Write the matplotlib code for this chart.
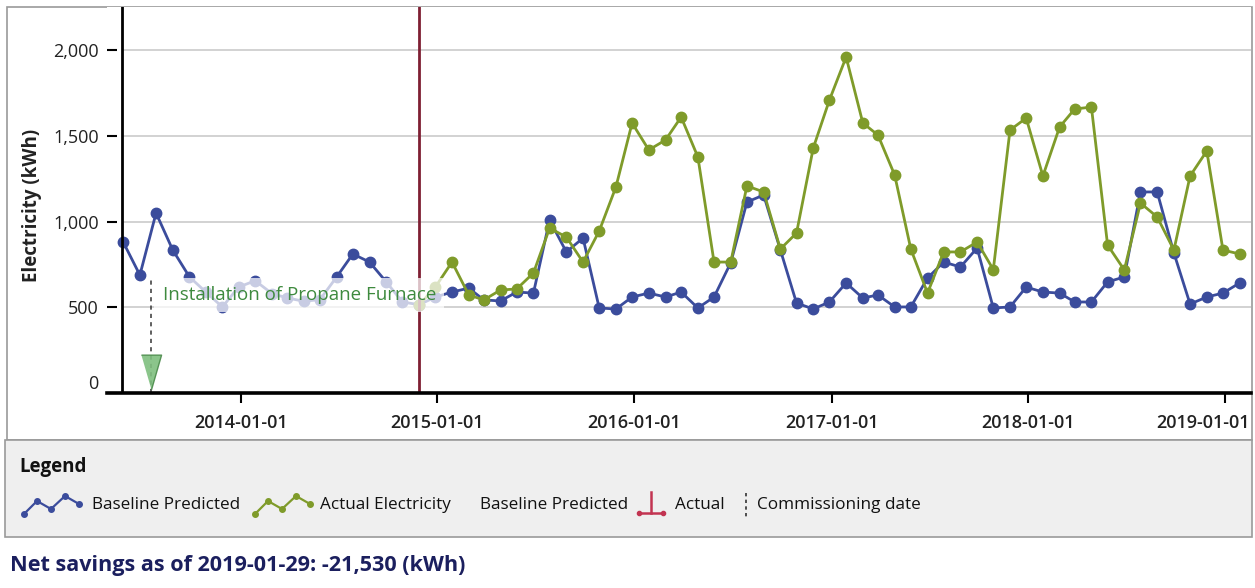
import numpy as np
import pandas as pd
import matplotlib
matplotlib.use("Agg")
import matplotlib.pyplot as plt
import matplotlib.dates as mdates
from matplotlib.lines import Line2D
from matplotlib.patches import Rectangle
from matplotlib.ticker import FixedLocator, FuncFormatter
from matplotlib.transforms import ScaledTranslation

plt.rcParams['font.family'] = ['Open Sans', 'DejaVu Sans']

# ---------------- data ----------------
months = pd.date_range('2013-05-01', '2019-01-01', freq='MS') + pd.Timedelta(days=27)

baseline_predicted = [
    881, 688, 1050, 834, 677, 590, 502, 618,                      # 2013 May-Dec
    655, 580, 555, 535, 545, 677, 811, 764, 648, 531, 515, 560,   # 2014
    589, 612, 543, 537, 589, 583, 1009, 823, 904, 496, 490, 560,  # 2015
    583, 560, 589, 496, 560, 760, 1114, 1155, 835, 525, 490, 531, # 2016
    642, 554, 572, 502, 502, 671, 764, 735, 846, 496, 502, 618,   # 2017
    589, 583, 531, 531, 648, 677, 1173, 1173, 817, 519, 560, 583, # 2018
    642,                                                          # 2019 Jan
]

actual_start = '2014-11-01'
actual_electricity = [
    513, 618,                                                          # 2014 Nov-Dec
    764, 572, 543, 601, 607, 700, 962, 910, 764, 945, 1202, 1575,      # 2015
    1418, 1476, 1610, 1377, 764, 764, 1208, 1173, 840, 933, 1429, 1709,# 2016
    1960, 1575, 1505, 1272, 840, 583, 823, 823, 881, 720, 1534, 1604,  # 2017
    1266, 1552, 1657, 1668, 863, 718, 1108, 1027, 834, 1266, 1412, 834,# 2018
    811,                                                               # 2019 Jan
]
actual_months = months[months >= pd.Timestamp(actual_start)]

y_ticks = [0, 500, 1000, 1500, 2000]
x_ticks = pd.to_datetime(['2014-01-01', '2015-01-01', '2016-01-01',
                          '2017-01-01', '2018-01-01', '2019-01-01'])
baseline_start = pd.Timestamp('2013-05-26')
reporting_start = pd.Timestamp('2014-11-27')
commissioning_date = pd.Timestamp('2013-07-18')
commissioning_label = 'Installation of Propane Furnace'
net_savings_text = 'Net savings as of 2019-01-29: -21,530 (kWh)'

# ---------------- figure ----------------
W, H = 1255, 588
fig = plt.figure(figsize=(W / 100, H / 100), dpi=100)

def fx(x):
    return x / W

def fy(y):
    return 1 - y / H

ax_l, ax_r, ax_t, ax_b = 107, 1251, 7, 393
ax = fig.add_axes([fx(ax_l), fy(ax_b), fx(ax_r - ax_l), (ax_b - ax_t) / H])

BLUE = '#3b4c9c'
GREEN = '#7f9b2a'
x_end = pd.Timestamp('2019-02-18')

ax.set_xlim(pd.Timestamp('2013-04-28'), x_end)
ax.set_ylim(0, 2252)

# gridlines starting at the y-axis line
ax.hlines(y_ticks[1:], baseline_start, x_end, colors='#cfcfcf', lw=1.3, zorder=1)

ax.plot(months, baseline_predicted, color=BLUE, lw=2.0, marker='o', ms=7.5,
        mfc=BLUE, mec=BLUE, zorder=3)
ax.plot(actual_months, actual_electricity, color=GREEN, lw=2.0, marker='o', ms=7.5,
        mfc=GREEN, mec=GREEN, zorder=3)

ax.axvline(baseline_start, color='black', lw=2.0, zorder=4)
ax.axvline(reporting_start, color='#7e1f33', lw=2.0, zorder=4)

# commissioning marker
ax.vlines(commissioning_date, 0, 660, colors='#444444', lw=1.2,
          linestyles=(0, (2.5, 2.5)), zorder=4)
ax.plot([commissioning_date], [122], linestyle='none',
        marker=[(-0.58, 1), (0.58, 1), (0, -1)], ms=25,
        mfc='#7fbf7f', mec='#4a8a4a', mew=1.0, alpha=0.9, zorder=4)
ax.text(pd.Timestamp('2013-08-09'), 572, commissioning_label, ha='left', va='center',
        fontsize=13.5, color='#3e8a3e', zorder=6,
        bbox=dict(facecolor='white', alpha=0.72, edgecolor='none', pad=6))

# axes styling
for s in ['top', 'right', 'left']:
    ax.spines[s].set_visible(False)
ax.spines['bottom'].set_linewidth(2.6)
ax.spines['bottom'].set_zorder(5)

ax.yaxis.set_major_locator(FixedLocator(y_ticks))
ax.yaxis.set_major_formatter(FuncFormatter(lambda v, p: f'{int(v):,}'))
ax.tick_params(axis='y', direction='in', length=7, width=1.5, pad=6,
               labelsize=13, colors='black', labelcolor='#222222')

ax.xaxis.set_major_locator(FixedLocator(mdates.date2num(x_ticks)))
ax.xaxis.set_major_formatter(mdates.DateFormatter('%Y-%m-%d'))
ax.tick_params(axis='x', direction='out', length=7, width=1.5, pad=8,
               labelsize=13, labelcolor='#222222')

ylabels = ax.get_yticklabels()
ylabels[0].set_verticalalignment('bottom')
xlabels = ax.get_xticklabels()
for lab in xlabels:
    lab.set_fontweight('semibold')
xlabels[-1].set_transform(xlabels[-1].get_transform() +
                          ScaledTranslation(-0.22, 0, fig.dpi_scale_trans))

ax.set_ylabel('Electricity (kWh)', fontsize=13.5, fontweight='bold', color='#222222')
ax.yaxis.set_label_coords((42 - ax_l) / (ax_r - ax_l), 0.487)

# outer chart border
fig.add_artist(Rectangle((fx(7), fy(440)), fx(1252 - 7), (440 - 7) / H,
                         transform=fig.transFigure, fill=False,
                         edgecolor='#9a9a9a', lw=1.2, zorder=0))

# legend panel
fig.add_artist(Rectangle((fx(5), fy(537)), fx(1252 - 5), (537 - 440) / H,
                         transform=fig.transFigure, facecolor='#efefef',
                         edgecolor='#9a9a9a', lw=1.2, zorder=0))
fig.text(fx(19), fy(467), 'Legend', fontsize=13.5, fontweight='bold',
         ha='left', va='center', color='#111111')

ly = 505

def zigzag(x0, color):
    xs = [x0 + d for d in (2, 15, 29, 43, 57)]
    ys = [ly + d for d in (9, -4, 4, -9, -1)]
    fig.add_artist(Line2D([fx(x) for x in xs], [fy(y) for y in ys],
                          transform=fig.transFigure, color=color, lw=1.6,
                          marker='o', ms=4, mfc=color, mec=color))

zigzag(22, BLUE)
zigzag(253, GREEN)
leg_items = [(92, 'Baseline Predicted'), (320, 'Actual Electricity'),
             (480, 'Baseline Predicted'), (675, 'Actual'), (757, 'Commissioning date')]
for x, t in leg_items:
    fig.text(fx(x), fy(ly), t, fontsize=12.3, ha='left', va='center', color='#111111')

RED = '#c23451'
fig.add_artist(Line2D([fx(651), fx(651)], [fy(492), fy(513)],
                      transform=fig.transFigure, color=RED, lw=1.8))
fig.add_artist(Line2D([fx(639), fx(663)], [fy(513), fy(513)],
                      transform=fig.transFigure, color=RED, lw=1.8,
                      marker='o', ms=3, markevery=[0, 1]))
fig.add_artist(Line2D([fx(746), fx(746)], [fy(493), fy(517)],
                      transform=fig.transFigure, color='#333333', lw=1.2,
                      linestyle=(0, (2, 2))))

fig.text(fx(10), fy(566), net_savings_text, fontsize=15.6, fontweight='bold',
         ha='left', va='center', color='#1b1f5e')

fig.savefig('out.png', dpi=100, facecolor='white')
